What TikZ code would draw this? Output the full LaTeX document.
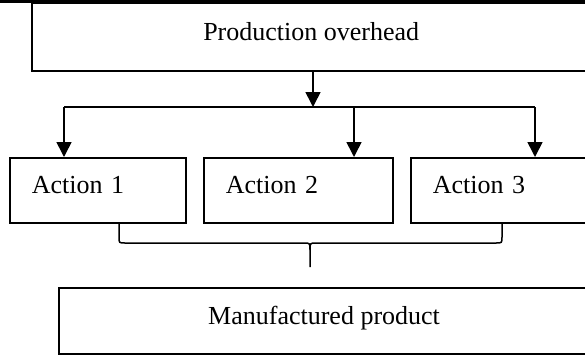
\documentclass[tikz,border=0pt]{standalone}
\usepackage{fontspec}
\setmainfont{Liberation Serif}
\usetikzlibrary{arrows.meta}
\begin{document}
\begin{tikzpicture}[x=1pt,y=-1pt,
  box/.style={draw, rectangle, anchor=north west, inner sep=0pt,
    font=\fontsize{26}{30}\selectfont, text height=18pt, text depth=12pt},
  actbox/.style={box, line width=1.6pt, minimum height=65pt, align=left, inner xsep=22pt},
  arr/.style={line width=1.6pt, -{Triangle[length=15pt,width=15pt]}},
  link/.style={line width=1.5pt}]
\useasboundingbox (0,0) rectangle (585,354);
\clip (0,0) rectangle (585,354);

% rule of the table above
\draw[line width=2.8pt] (0,1.5) -- (585,1.5);
\draw[line width=1.5pt] (297,0) -- (297,3.5);
\draw[line width=1.5pt] (485,0) -- (485,3.5);

% boxes
\node[box, line width=2.4pt, minimum width=558pt, minimum height=68pt] (top) at (31,2) {Production overhead};
\node[actbox, text width=132pt] (a1) at (9,157) {Action 1};
\node[actbox, text width=145pt] (a2) at (203,157) {Action 2};
\node[actbox, text width=141pt] (a3) at (410,157) {Action 3};
\node[box, line width=2.1pt, minimum width=530pt, minimum height=66pt] (prod) at (58,287) {Manufactured product};

% distribution to the actions
\coordinate (hub) at (313,107);
\coordinate (busL) at (64,107);
\coordinate (busM) at (354,107);
\coordinate (busR) at (535,107);
\draw[arr] (top.south -| hub) -- (hub);
\draw[link, line width=1.8pt] (busL) -- (busR);
\draw[arr] (busL) -- (busL |- a1.north);
\draw[arr] (busM) -- (busM |- a2.north);
\draw[arr] (busR) -- (busR |- a3.north);

% brace gathering the actions
\path (a1.south west) ++(110,0) coordinate (bL);
\path (a3.south west) ++(92,0) coordinate (bR);
\coordinate (tip) at (310,267);
\draw[link] (bL) -- (119,237) .. controls (119,243) .. (125,243) -- (304,243)
  .. controls (310,243) .. (310,250) -- (tip);
\draw[link] (bR) -- (502,237) .. controls (502,243) .. (496,243) -- (316,243)
  .. controls (310,243) .. (310,250);
\end{tikzpicture}
\end{document}
